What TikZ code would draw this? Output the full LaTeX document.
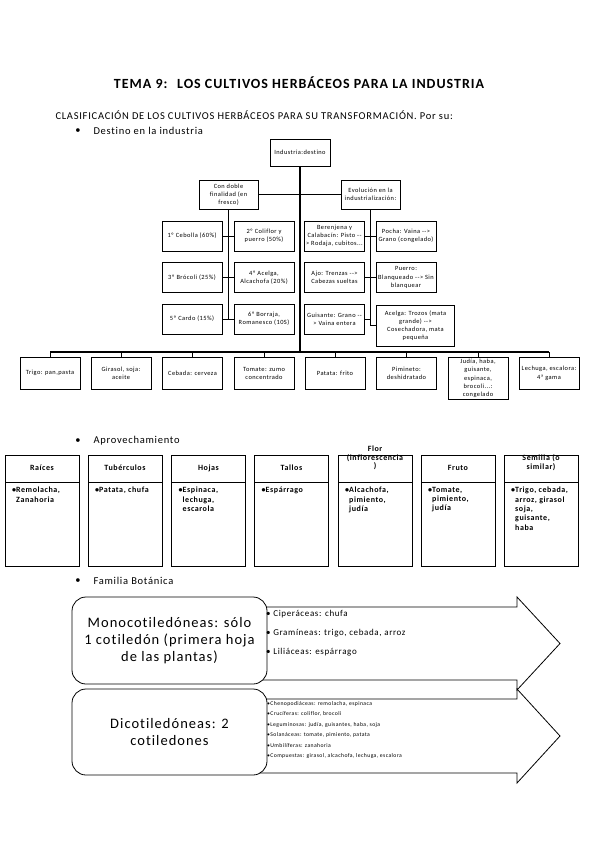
\documentclass[tikz,border=0pt]{standalone}
\usepackage{fontspec}
\setmainfont{Carlito}[LetterSpace=7, Ligatures={TeX,NoCommon}]
\newcommand{\flecha}{-{}-{}>}
\tikzset{
    orgbox/.style={draw, line width=0.6pt, align=center, inner sep=1pt,
        minimum width=60, minimum height=30, font=\fontsize{6.4}{8.2}\selectfont},
    link/.style={line width=0.7pt},
    trunk/.style={line width=1.4pt},
    apbox/.style={draw, line width=0.7pt},
    aphead/.style={align=center, inner sep=0pt, font=\fontsize{8}{8.5}\selectfont\bfseries},
    aplist/.style={align=left, inner sep=0pt, font=\fontsize{8}{9.3}\selectfont\bfseries},
    bigbox/.style={draw, line width=0.8pt, fill=white, rounded corners=14pt, align=center,
        minimum width=195, inner sep=2pt, font=\fontsize{14.5}{17}\selectfont},
    bigarrow/.style={draw, line width=0.8pt, fill=white}
}
\begin{document}
\begin{tikzpicture}[x=1pt,y=-1pt]
    \useasboundingbox (0,0) rectangle (599,848);

    % Titles
    \node[font=\fontsize{14}{16}\selectfont\bfseries] (titulo) at (299,83)
        {TEMA 9:~ LOS CULTIVOS HERBÁCEOS PARA LA INDUSTRIA};
    \node[anchor=west, font=\fontsize{10.5}{12}\selectfont] (clasif) at (52,115)
        {CLASIFICACIÓN DE LOS CULTIVOS HERBÁCEOS PARA SU TRANSFORMACIÓN. Por su:};
    \foreach \y/\t [count=\k] in {131/Destino en la industria, 441/Aprovechamiento, 581/Familia Botánica} {
        \node[font=\fontsize{10.5}{12}\selectfont] (bul\k) at (78,\y) {•};
        \node[anchor=west, font=\fontsize{10.5}{12}\selectfont] (sec\k) at (90,\y) {\t};
    }

    % Destino en la industria
    \node[orgbox, minimum height=27] (dest) at (300,152.5) {Industria:destino};
    \node[orgbox, minimum width=59, minimum height=29] (doble) at (228.5,194.5) {Con doble\\finalidad (en\\fresco)};
    \node[orgbox, minimum width=59, minimum height=29] (evol) at (370.5,194.5) {Evolución en la\\industrialización:};

    \node[orgbox] (c1) at (192,236) {1º Cebolla (60\%)};
    \node[orgbox] (c2) at (264,236) {2º Coliflor y\\puerro (50\%)};
    \node[orgbox] (c3) at (192,277.5) {3º Brócoli (25\%)};
    \node[orgbox] (c4) at (264,277.5) {4º Acelga,\\Alcachofa (20\%)};
    \node[orgbox] (c5) at (192,319) {5º Cardo (15\%)};
    \node[orgbox] (c6) at (264,319) {6º Borraja,\\Romanesco (10S)};

    \node[orgbox] (e1) at (334.5,236) {Berenjena y\\Calabacín: Pisto -{}-\\> Rodaja, cubitos...};
    \node[orgbox] (e2) at (406,236) {Pocha: Vaina \flecha\\Grano (congelado)};
    \node[orgbox] (e3) at (334.5,277.5) {Ajo: Trenzas \flecha\\Cabezas sueltas};
    \node[orgbox] (e4) at (406,277.5) {Puerro:\\Blanqueado \flecha{} Sin\\blanquear};
    \node[orgbox] (e5) at (334.5,319) {Guisante: Grano -{}-\\> Vaina entera};
    \node[orgbox, minimum width=78, minimum height=41] (e6) at (415.5,325.5)
        {Acelga: Trozos (mata\\grande) \flecha\\Cosechadora, mata\\pequeña};

    \coordinate (bus) at (300,352);
    \foreach \x/\t [count=\k] in {50/{Trigo: pan,pasta}, 121/{Girasol, soja:\\aceite}, 192.5/{Cebada: cerveza},
            264/{Tomate: zumo\\concentrado}, 335/{Patata: frito}, 406.5/{Pimineto:\\deshidratado},
            478/{Judía, haba,\\guisante,\\espinaca,\\brocoli...:\\congelado}, 549/{Lechuga, escalora:\\4ª gama}} {
        \node[orgbox, anchor=north, minimum height=32, inner ysep=2pt] (b\k) at (\x,357) {\t};
        \draw[link] (b\k.north) -- (b\k.north |- bus);
    }

    \draw[link] (doble.east) -- (evol.west);
    \draw[trunk] (dest.south) -- (bus);
    \draw[trunk] (b1.north |- bus) -- (b8.north |- bus);
    \draw[link] (doble.south) -- (doble.south |- c5.east);
    \draw[link] (c1.east) -- (c2.west);
    \draw[link] (c3.east) -- (c4.west);
    \draw[link] (c5.east) -- (c6.west);
    \draw[link] (evol.south) |- (e6.west);
    \draw[link] (e1.east) -- (e2.west);
    \draw[link] (e3.east) -- (e4.west);
    \draw[link] (e5.east) -- (e5.east -| evol.south);

    % Aprovechamiento
    \foreach \x/\hy/\h/\b [count=\k] in {5/468/{Raíces}/{Remolacha,\\Zanahoria}, 88/468/{Tubérculos}/{Patata, chufa},
            171.5/468/{Hojas}/{Espinaca,\\lechuga,\\escarola}, 254.5/468/{Tallos}/{Espárrago},
            338/458/{Flor\\(inflorescencia\\)}/{Alcachofa,\\pimiento,\\judía}, 421/468/{Fruto}/{Tomate,\\pimiento,\\judía},
            504/462.5/{Semilla (o\\similar)}/{Trigo, cebada,\\arroz, girasol\\soja,\\guisante,\\haba}} {
        \draw[apbox] (\x,455) rectangle ++(74,27) (\x,482) rectangle ++(74,84);
        \node[aphead] (ap\k) at (\x+37,\hy) {\h};
        \node[aplist, anchor=north west] (apl\k) at (\x+11,487) {\llap{•}\b};
    }

    % Familia Botanica
    \draw[bigarrow] (255,607) -- (517,607) -- (517,597) -- (560,643.5) -- (517,690) -- (517,680) -- (255,680) -- cycle;
    \node[bigbox, minimum height=87] (mono) at (169.5,640.5)
        {Monocotiledóneas: sólo\\1 cotiledón (primera hoja\\de las plantas)};
    \node[anchor=north west, align=left, inner sep=0pt, font=\fontsize{9}{19}\selectfont] (monolist) at (266,610)
        {• Ciperáceas: chufa\\• Gramíneas: trigo, cebada, arroz\\• Liliáceas: espárrago};

    \draw[bigarrow] (255,699) -- (517,699) -- (517,689) -- (560,736) -- (517,783) -- (517,773) -- (255,773) -- cycle;
    \node[bigbox, minimum height=86] (dico) at (169.5,732)
        {Dicotiledóneas: 2\\cotiledones};
    \node[anchor=north west, align=left, inner sep=0pt, font=\fontsize{5.7}{10.5}\selectfont] (dicolist) at (267,701)
        {•Chenopodiáceas: remolacha, espinaca\\•Crucíferas: coliflor, brocoli\\•Leguminosas: judía, guisantes, haba, soja\\
         •Solanáceas: tomate, pimiento, patata\\•Umbilíferas: zanahoria\\•Compuestas: girasol, alcachofa, lechuga, escalora};
\end{tikzpicture}
\end{document}
